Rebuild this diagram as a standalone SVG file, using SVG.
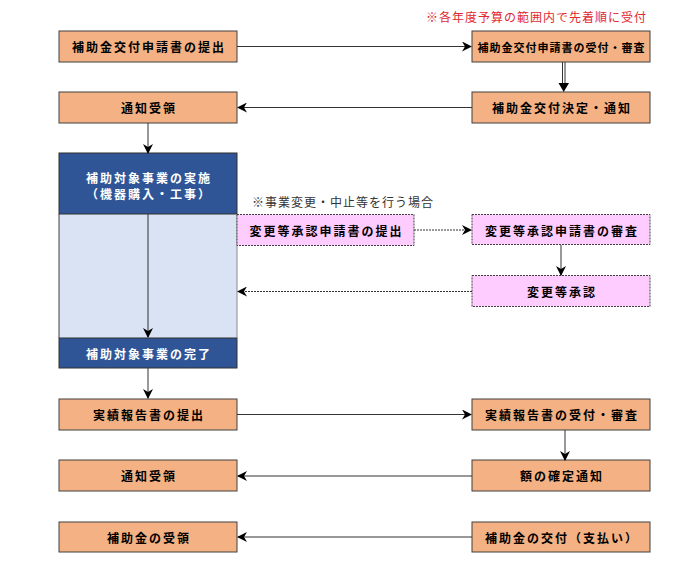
<svg xmlns="http://www.w3.org/2000/svg" width="680" height="584" viewBox="0 0 680 584">
<defs>
<style>
.o{fill:#F4B183;stroke:#404040;stroke-width:1}
.p{fill:#FFCCFF;stroke:#404040;stroke-width:1;stroke-dasharray:2 1}
.bd{fill:#2F5597;stroke:#303030;stroke-width:1}
.bl{fill:#DAE3F3;stroke:none}
.t{font-family:"Noto Sans CJK JP","Noto Sans CJK SC",sans-serif;font-size:12px;font-weight:bold;fill:#000;text-anchor:middle;dominant-baseline:central;letter-spacing:2px}
.ts{font-size:11px;letter-spacing:1px}
.w{fill:#fff}
.n{font-family:"Noto Sans CJK JP","Noto Sans CJK SC",sans-serif;font-size:12px;letter-spacing:1px;dominant-baseline:central}
.c{fill:none;stroke:#333;stroke-width:1}
.d{stroke-dasharray:2 1}
</style>
<marker id="a" viewBox="0 0 10 10" refX="9" refY="5" markerWidth="10" markerHeight="10" markerUnits="userSpaceOnUse" orient="auto">
<path d="M0,0 L10,5 L0,10 L3,5 Z" fill="#000"/>
</marker>
</defs>
<text class="n" x="426" y="16.5" fill="#E0282E">※各年度予算の範囲内で先着順に受付</text>
<text class="n" x="252" y="201" fill="#333">※事業変更・中止等を行う場合</text>
<g id="n1"><rect class="o" x="59" y="31" width="178" height="31"/><text class="t" x="149" y="46.5">補助金交付申請書の提出</text></g>
<g id="n2"><rect class="o" x="472" y="31" width="178" height="31"/><text class="t ts" x="561.5" y="46.5">補助金交付申請書の受付・審査</text></g>
<g id="n3"><rect class="o" x="59" y="92" width="178" height="31"/><text class="t" x="149" y="107.5">通知受領</text></g>
<g id="n4"><rect class="o" x="472" y="92" width="178" height="31"/><text class="t" x="562" y="107.5">補助金交付決定・通知</text></g>
<g id="n5">
<rect class="bl" x="59" y="214" width="178" height="124"/>
<rect class="bd" x="59" y="153" width="178" height="61"/>
<rect class="bd" x="59" y="338" width="178" height="30"/>
<line x1="59" y1="214" x2="59" y2="338" stroke="#404040"/>
<line x1="237" y1="214" x2="237" y2="338" stroke="#888"/>
<text class="t w" x="149" y="177">補助対象事業の実施</text>
<text class="t w" x="149" y="193">（機器購入・工事）</text>
<text class="t w" x="149" y="353.5">補助対象事業の完了</text>
</g>
<g id="n6"><rect class="p" x="237" y="214.5" width="177" height="31"/><text class="t" x="326.5" y="230">変更等承認申請書の提出</text></g>
<g id="n7"><rect class="p" x="472" y="214.5" width="178" height="30"/><text class="t" x="562" y="230">変更等承認申請書の審査</text></g>
<g id="n8"><rect class="p" x="472" y="275.5" width="178" height="31"/><text class="t" x="562" y="291.5">変更等承認</text></g>
<g id="n9"><rect class="o" x="59" y="399" width="178" height="31"/><text class="t" x="149" y="414.5">実績報告書の提出</text></g>
<g id="n10"><rect class="o" x="472" y="399" width="178" height="31"/><text class="t" x="562" y="414.5">実績報告書の受付・審査</text></g>
<g id="n11"><rect class="o" x="59" y="460" width="178" height="31"/><text class="t" x="149" y="475.5">通知受領</text></g>
<g id="n12"><rect class="o" x="472" y="460" width="178" height="31"/><text class="t" x="562" y="475.5">額の確定通知</text></g>
<g id="n13"><rect class="o" x="59" y="522" width="178" height="30"/><text class="t" x="149" y="537">補助金の受領</text></g>
<g id="n14"><rect class="o" x="472" y="522" width="178" height="30"/><text class="t" x="562" y="537">補助金の交付（支払い）</text></g>
<g id="connectors">
<line class="c" x1="237" y1="46.5" x2="471" y2="46.5" marker-end="url(#a)"/>
<line x1="562.5" y1="62" x2="562.5" y2="85" stroke="#333" stroke-width="1"/>
<line x1="565" y1="62" x2="565" y2="85" stroke="#333" stroke-width="1"/>
<path d="M558.5,83 L569,83 L563.7,92 Z" fill="#000"/>
<line class="c" x1="472" y1="107.5" x2="238" y2="107.5" marker-end="url(#a)"/>
<line class="c" x1="148" y1="123" x2="148" y2="153" marker-end="url(#a)"/>
<line class="c" x1="148" y1="214" x2="148" y2="337" marker-end="url(#a)"/>
<line class="c d" x1="414" y1="230" x2="471" y2="230" marker-end="url(#a)"/>
<line class="c" x1="561" y1="245" x2="561" y2="275" marker-end="url(#a)"/>
<line class="c d" x1="472" y1="291.5" x2="238" y2="291.5" marker-end="url(#a)"/>
<line class="c" x1="148" y1="368" x2="148" y2="398" marker-end="url(#a)"/>
<line class="c" x1="237" y1="414.5" x2="471" y2="414.5" marker-end="url(#a)"/>
<line class="c" x1="565" y1="430" x2="565" y2="460" marker-end="url(#a)"/>
<line class="c" x1="472" y1="476" x2="238" y2="476" marker-end="url(#a)"/>
<line class="c" x1="472" y1="537" x2="238" y2="537" marker-end="url(#a)"/>
</g>
</svg>
